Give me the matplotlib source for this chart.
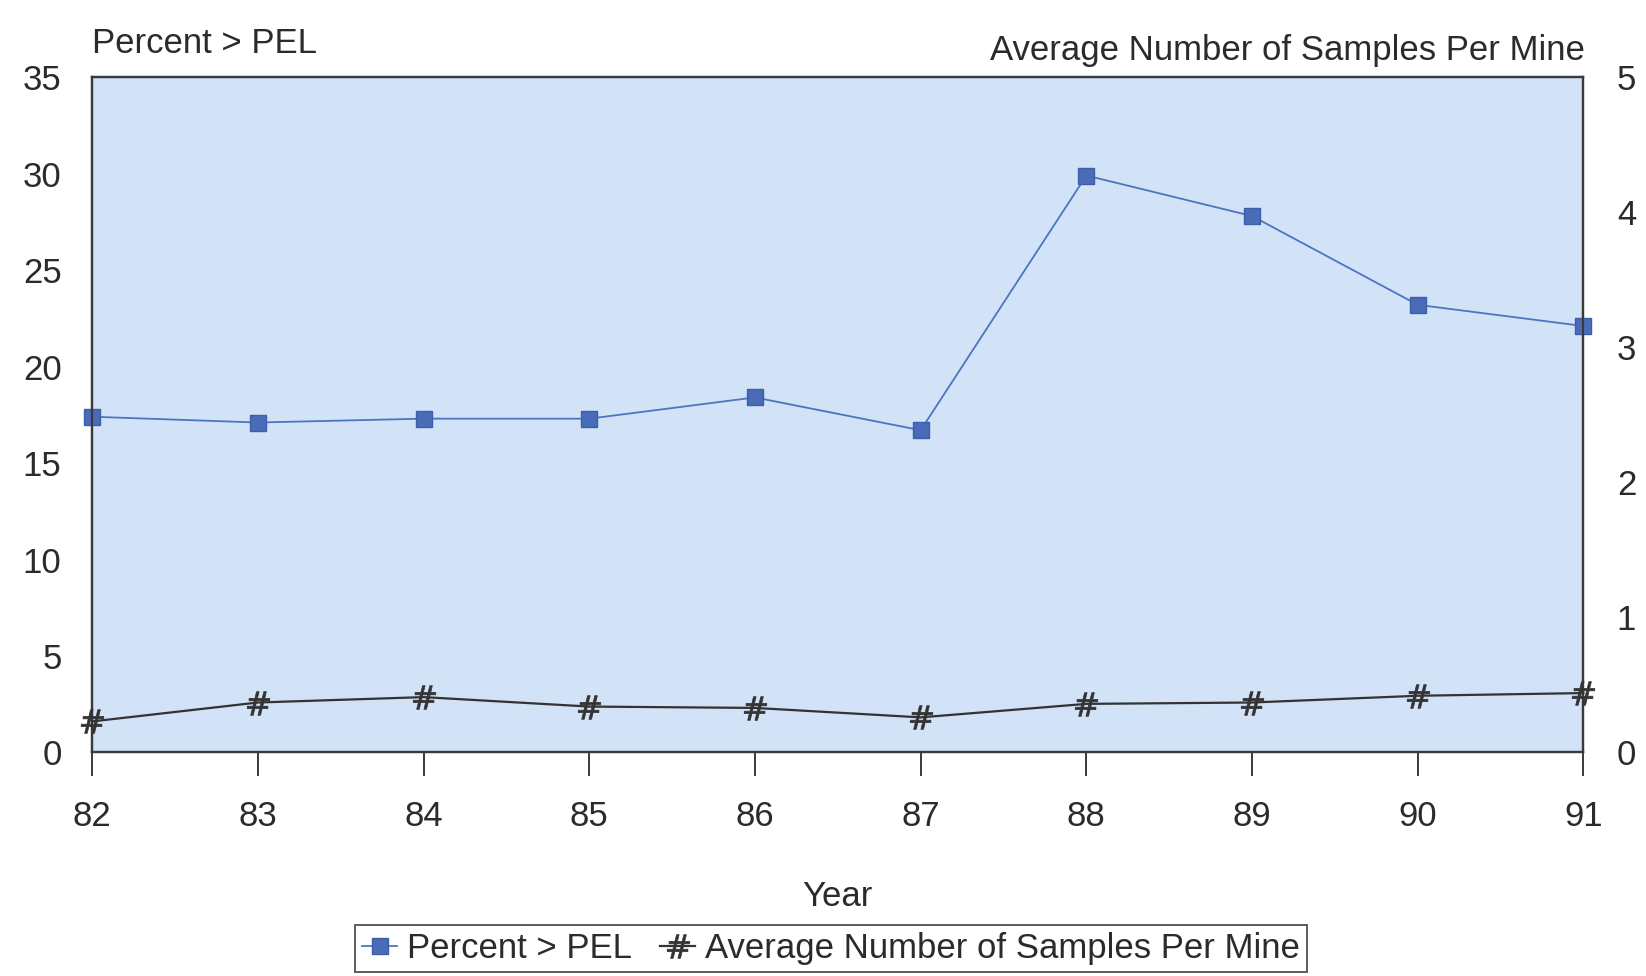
import numpy as np
import matplotlib.pyplot as plt

# Werte
jahre = [82, 83, 84, 85, 86, 87, 88, 89, 90, 91]
prozent_pel = [17.4, 17.1, 17.3, 17.3, 18.4, 16.7, 29.9, 27.8, 23.2, 22.1]
proben_pro_mine = [0.23, 0.37, 0.41, 0.34, 0.33, 0.26, 0.36, 0.37, 0.42, 0.44]

links_ticks = [0, 5, 10, 15, 20, 25, 30, 35]
rechts_ticks = [0, 1, 2, 3, 4, 5]

plt.rcParams["font.family"] = ["Liberation Sans", "DejaVu Sans"]
textfarbe = "#2b2b2b"
blau = "#4d74c2"
hintergrund = "#d2e3f7"
schrift = 25

fig = plt.figure(figsize=(16.46, 9.76), dpi=100)
ax = fig.add_axes([0.056, 0.229, 0.906, 0.692])
ax2 = ax.twinx()

ax.set_facecolor(hintergrund)
ax.set_xlim(82, 91)
ax.set_ylim(0, 35)
ax2.set_ylim(0, 5)

l1, = ax.plot(jahre, prozent_pel, color=blau, linewidth=1.3, marker="s", markersize=12,
              markerfacecolor="#4a6cb8", markeredgecolor="#3d5ea8", clip_on=False, zorder=5,
              label="Percent > PEL")
l2, = ax2.plot(jahre, proben_pro_mine, color="#333333", linewidth=1.6, marker=r"$\#$",
               markersize=17, markeredgewidth=0.5, clip_on=False, zorder=5,
               label="Average Number of Samples Per Mine")

for s in list(ax.spines.values()) + list(ax2.spines.values()):
    s.set_color("#3a3a3a")
    s.set_linewidth(1.6)

ax.set_xticks(jahre)
ax.tick_params(axis="x", direction="out", length=17, width=1.4, color="#3a3a3a",
               labelsize=schrift, labelcolor=textfarbe, pad=17)
ax.set_yticks(links_ticks)
ax.tick_params(axis="y", length=0, labelsize=schrift, labelcolor=textfarbe, pad=22)
ax2.set_yticks(rechts_ticks)
ax2.tick_params(axis="y", length=0, labelsize=schrift, labelcolor=textfarbe, pad=24)

ax.set_xlabel("Year", fontsize=schrift, color=textfarbe, labelpad=34)

fig.text(0.056, 0.955, "Percent > PEL", fontsize=schrift, color=textfarbe, ha="left", va="center")
fig.text(0.963, 0.948, "Average Number of Samples Per Mine", fontsize=schrift, color=textfarbe,
         ha="right", va="center")

leg = fig.legend(handles=[l1, l2], loc="upper center", bbox_to_anchor=(0.505, 0.052), ncol=2,
                 fontsize=schrift, frameon=True, fancybox=False, edgecolor="#333333",
                 handlelength=1.0, handletextpad=0.3, columnspacing=0.8, borderpad=0.2,
                 borderaxespad=0, labelcolor=textfarbe)
leg.get_frame().set_linewidth(1.4)

fig.savefig("out.png", dpi=100)
